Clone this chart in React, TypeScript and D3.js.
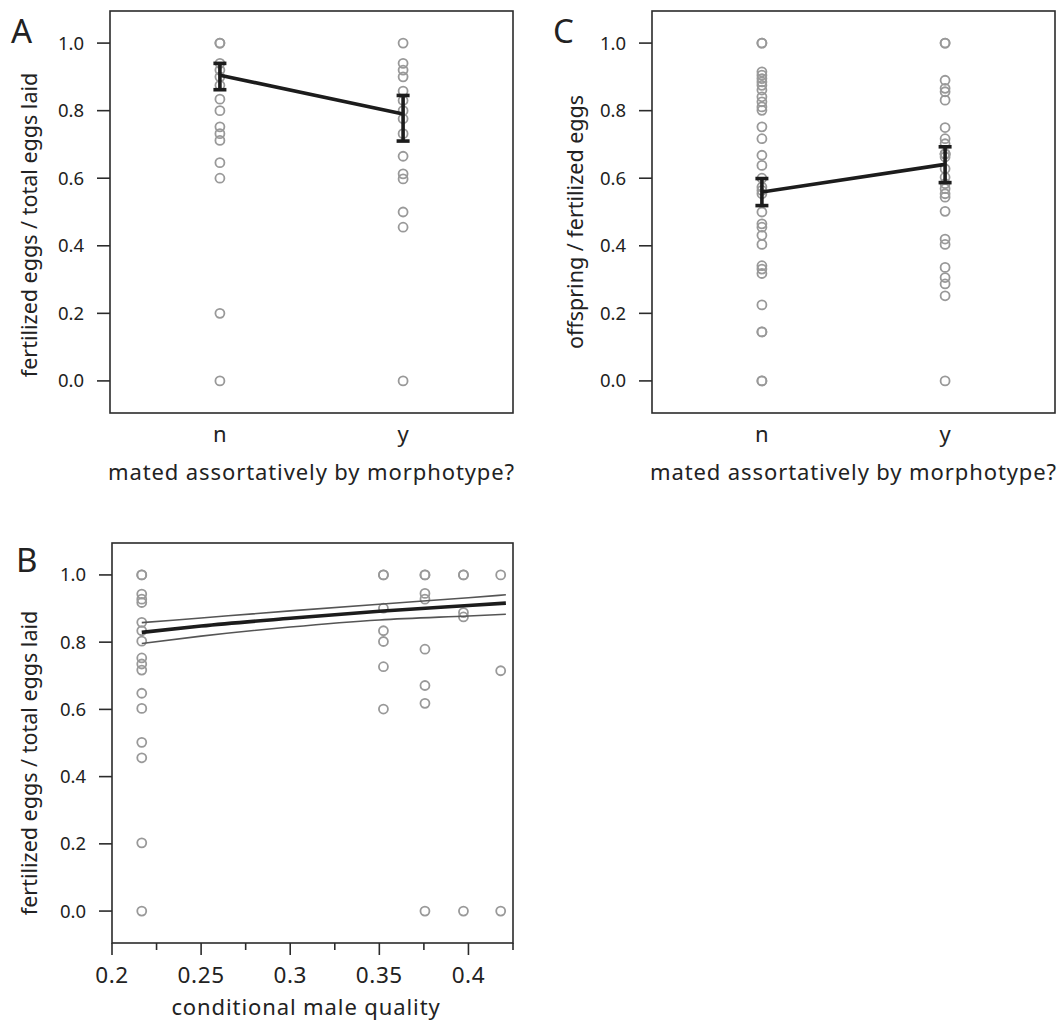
import * as d3 from "d3";

// panel A / C categories
const groups = ["n", "y"];

// A: fertilized eggs / total eggs laid
const fertN = [1.0, 1.0, 0.94, 0.92, 0.9, 0.875, 0.834, 0.8, 0.752, 0.732, 0.712, 0.646, 0.6, 0.2, 0.0];
const fertY = [1.0, 0.94, 0.92, 0.9, 0.858, 0.83, 0.8, 0.776, 0.732, 0.665, 0.613, 0.598, 0.5, 0.455, 0.0];
const fertMean = [0.905, 0.79];
const fertLo = [0.862, 0.71];
const fertHi = [0.94, 0.845];

// C: offspring / fertilized eggs
const offN = [
	1.0, 1.0, 0.915, 0.905, 0.895, 0.885, 0.875, 0.861, 0.841, 0.826, 0.811, 0.801, 0.752, 0.717,
	0.668, 0.638, 0.6, 0.574, 0.564, 0.554, 0.5, 0.465, 0.455, 0.431, 0.404, 0.341, 0.331, 0.318,
	0.225, 0.145, 0.145, 0.0, 0.0,
];
const offY = [
	1.0, 1.0, 0.89, 0.866, 0.856, 0.831, 0.75, 0.717, 0.702, 0.672, 0.672, 0.672, 0.663, 0.628,
	0.603, 0.584, 0.569, 0.554, 0.544, 0.502, 0.42, 0.404, 0.336, 0.306, 0.287, 0.252, 0.0,
];
const offMean = [0.559, 0.641];
const offLo = [0.519, 0.587];
const offHi = [0.599, 0.693];

// B: conditional male quality
const qualityX = [0.2167, 0.3523, 0.3756, 0.3972, 0.4181];
const qualityVals = [
	[1.0, 1.0, 0.943, 0.928, 0.918, 0.859, 0.834, 0.803, 0.753, 0.735, 0.717, 0.648, 0.603, 0.502, 0.456, 0.203, 0.0],
	[1.0, 1.0, 0.901, 0.834, 0.802, 0.727, 0.601],
	[1.0, 1.0, 0.945, 0.928, 0.779, 0.671, 0.618, 0.0],
	[1.0, 1.0, 0.888, 0.875, 0.0],
	[1.0, 0.715, 0.0],
];
const fitX = [0.2167, 0.25, 0.3, 0.35, 0.4, 0.421];
const fitMid = [0.829, 0.848, 0.871, 0.892, 0.909, 0.916];
const fitHi = [0.858, 0.872, 0.893, 0.913, 0.932, 0.941];
const fitLo = [0.796, 0.818, 0.845, 0.866, 0.878, 0.883];

const yTicks = [0, 0.2, 0.4, 0.6, 0.8, 1.0];
const xMajor = [0.2, 0.25, 0.3, 0.35, 0.4];
const xMinor = [0.225, 0.275, 0.325, 0.375, 0.425];

const font = "'Noto Sans', sans-serif";
const frameColor = "#2b2b2b";
const dotColor = "#999";
const ink = "#222";

interface YAxisProps {
	y: d3.ScaleLinear<number, number>;
	left: number;
}
function YAxis({ y, left }: YAxisProps) {
	return (
		<g>
			{yTicks.map((t) => (
				<g key={t}>
					<line x1={left - 13} x2={left} y1={y(t)} y2={y(t)} stroke={frameColor} strokeWidth={1.6} />
					<text x={left - 26} y={y(t)} dy="0.35em" textAnchor="end" fontSize={18.5} fill={ink}>
						{t.toFixed(1)}
					</text>
				</g>
			))}
		</g>
	);
}

interface CatProps {
	left: number;
	letter: string;
	yLabel: string;
	yLabelX: number;
	yLabelY: number;
	nVals: number[];
	yVals: number[];
	means: number[];
	lo: number[];
	hi: number[];
}
function CategoryPanel({ left, letter, yLabel, yLabelX, yLabelY, nVals, yVals, means, lo, hi }: CatProps) {
	const top = 11;
	const bottom = 413;
	const right = left + 403;
	const x = d3.scalePoint<string>().domain(groups).range([left, right]).padding(0.6);
	const y = d3.scaleLinear().domain([-0.095, 1.095]).range([bottom, top]);
	const cols = [nVals, yVals];
	const meanLine = d3
		.line<number>()
		.x((_, i) => x(groups[i]) as number)
		.y((d) => y(d))(means) as string;
	return (
		<g>
			<text x={left - 99} y={43} fontSize={33} fill={ink}>{letter}</text>
			<rect x={left} y={top} width={right - left} height={bottom - top} fill="none" stroke={frameColor} strokeWidth={1.6} />
			<YAxis y={y} left={left} />
			{cols.map((vals, gi) =>
				vals.map((v, i) => (
					<circle key={`${gi}-${i}`} cx={x(groups[gi])} cy={y(v)} r={4.5} fill="none" stroke={dotColor} strokeWidth={1.8} />
				)),
			)}
			<path d={meanLine} fill="none" stroke="#1c1c1c" strokeWidth={3.6} />
			{groups.map((g, i) => {
				const cx = x(g) as number;
				return (
					<g key={g} stroke="#1c1c1c" strokeWidth={3.6}>
						<line x1={cx} x2={cx} y1={y(lo[i])} y2={y(hi[i])} />
						<line x1={cx - 6.5} x2={cx + 6.5} y1={y(lo[i])} y2={y(lo[i])} />
						<line x1={cx - 6.5} x2={cx + 6.5} y1={y(hi[i])} y2={y(hi[i])} />
					</g>
				);
			})}
			{groups.map((g) => (
				<text key={g} x={x(g)} y={442} textAnchor="middle" fontSize={22} fill={ink}>{g}</text>
			))}
			<text x={(left + right) / 2} y={480} textAnchor="middle" fontSize={22} letterSpacing={0.9} fill={ink}>
				mated assortatively by morphotype?
			</text>
			<text transform={`translate(${yLabelX},${yLabelY}) rotate(-90)`} textAnchor="middle" fontSize={21.5} fill={ink}>
				{yLabel}
			</text>
		</g>
	);
}

function QualityPanel() {
	const left = 112;
	const right = 513;
	const top = 543;
	const bottom = 943;
	const x = d3.scaleLinear().domain([0.2, 0.425]).range([left, right]);
	const y = d3.scaleLinear().domain([-0.095, 1.095]).range([bottom, top]);
	const mk = (vals: number[]) =>
		d3
			.line<number>()
			.x((_, i) => x(fitX[i]))
			.y((d) => y(d))
			.curve(d3.curveMonotoneX)(vals) as string;
	return (
		<g>
			<text x={16} y={572} fontSize={33} fill={ink}>B</text>
			<rect x={left} y={top} width={right - left} height={bottom - top} fill="none" stroke={frameColor} strokeWidth={1.6} />
			<YAxis y={y} left={left} />
			{xMajor.map((t) => (
				<g key={t}>
					<line x1={x(t)} x2={x(t)} y1={bottom} y2={bottom + 12} stroke={frameColor} strokeWidth={1.6} />
					<text x={x(t)} y={983} textAnchor="middle" fontSize={22.5} letterSpacing={0.6} fill={ink}>{String(t)}</text>
				</g>
			))}
			{xMinor.map((t) => (
				<line key={t} x1={x(t)} x2={x(t)} y1={bottom} y2={bottom + 7} stroke={frameColor} strokeWidth={1.6} />
			))}
			{qualityVals.map((vals, ci) =>
				vals.map((v, i) => (
					<circle key={`${ci}-${i}`} cx={x(qualityX[ci])} cy={y(v)} r={4.5} fill="none" stroke={dotColor} strokeWidth={1.8} />
				)),
			)}
			<path d={mk(fitHi)} fill="none" stroke="#555" strokeWidth={1.6} />
			<path d={mk(fitLo)} fill="none" stroke="#555" strokeWidth={1.6} />
			<path d={mk(fitMid)} fill="none" stroke="#1c1c1c" strokeWidth={3.6} />
			<text x={306} y={1015} textAnchor="middle" fontSize={22} letterSpacing={0.9} fill={ink}>
				conditional male quality
			</text>
			<text transform={`translate(37,763) rotate(-90)`} textAnchor="middle" fontSize={21.5} fill={ink}>
				fertilized eggs / total eggs laid
			</text>
		</g>
	);
}

export default function App() {
	return (
		<svg width={1061} height={1024} style={{ position: "absolute", left: 0, top: 0, background: "#fff", fontFamily: font }}>
			<CategoryPanel
				left={110}
				letter="A"
				yLabel="fertilized eggs / total eggs laid"
				yLabelX={37}
				yLabelY={225}
				nVals={fertN}
				yVals={fertY}
				means={fertMean}
				lo={fertLo}
				hi={fertHi}
			/>
			<CategoryPanel
				left={652}
				letter="C"
				yLabel="offspring / fertilized eggs"
				yLabelX={583}
				yLabelY={222}
				nVals={offN}
				yVals={offY}
				means={offMean}
				lo={offLo}
				hi={offHi}
			/>
			<QualityPanel />
		</svg>
	);
}
